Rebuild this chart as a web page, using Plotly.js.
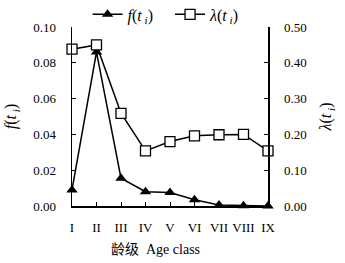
<!DOCTYPE html>
<html>
<head>
<meta charset="utf-8">
<script src="https://cdn.plot.ly/plotly-3.0.1.min.js"></script>
<style>html,body{margin:0;padding:0;background:#fff;}#chart{width:345px;height:263px;}</style>
</head>
<body>
<div id="chart"></div>
<script>
const ageClasses = ["I","II","III","IV","V","VI","VII","VIII","IX"];
const fValues = [0.009, 0.086, 0.0155, 0.008, 0.0075, 0.0035, 0.0006, 0.0001, 0.0];
const lambdaValues = [0.438, 0.450, 0.259, 0.154, 0.180, 0.196, 0.199, 0.200, 0.154];
const leftTicks = [0, 0.02, 0.04, 0.06, 0.08, 0.10];
const rightTicks = [0, 0.10, 0.20, 0.30, 0.40, 0.50];
const xTitle = "龄级  Age class";

const serif = "'Liberation Serif', 'Times New Roman', serif";
const cjk = "'Liberation Serif', 'Noto Sans CJK SC', serif";
const gap = "\u00a0\u00a0\u00a0";

const traces = [
  {
    x: ageClasses, y: fValues, name: "<i>f</i>(<i>t</i><sub><i> i</i></sub>)" + gap,
    type: "scatter", mode: "lines+markers", yaxis: "y",
    line: {color: "#000", width: 1.5},
    marker: {symbol: "triangle-up", size: 10, color: "#000"},
    cliponaxis: false
  },
  {
    x: ageClasses, y: lambdaValues, name: "<i>λ</i>(<i>t</i><sub><i> i</i></sub>)",
    type: "scatter", mode: "lines+markers", yaxis: "y2",
    line: {color: "#000", width: 1.5},
    marker: {symbol: "square", size: 10, color: "#fff", line: {color: "#000", width: 1.3}},
    cliponaxis: false
  }
];

const layout = {
  width: 345, height: 263,
  margin: {l: 72, r: 77, t: 27, b: 57, pad: 0, autoexpand: false},
  paper_bgcolor: "#fff", plot_bgcolor: "#fff",
  font: {family: serif, size: 13, color: "#000"},
  showlegend: true,
  legend: {orientation: "h", x: 0.48, xanchor: "center", yref: "container", y: 0.945, yanchor: "middle",
           font: {family: serif, size: 16}, tracegroupgap: 0},
  annotations: [{
    text: xTitle, xref: "paper", yref: "paper", x: 0.425, y: -0.245,
    xanchor: "center", yanchor: "middle", showarrow: false,
    font: {family: cjk, size: 14}
  }],
  xaxis: {
    type: "category", range: [0, 8], showgrid: false, zeroline: false,
    showline: true, linecolor: "#000", linewidth: 1.5,
    ticks: "inside", ticklen: 4, tickcolor: "#000", tickwidth: 1,
    ticklabelstandoff: 9, tickfont: {family: serif, size: 13}
  },
  yaxis: {
    range: [0, 0.10], tickvals: leftTicks, tickformat: ".2f",
    showgrid: false, zeroline: false, showline: true, linecolor: "#000", linewidth: 1.5,
    ticks: "inside", ticklen: 4, tickcolor: "#000", tickwidth: 1,
    ticklabelstandoff: 12, tickfont: {family: serif, size: 13},
    title: {text: "<i>f</i>(<i>t</i><sub><i> i</i></sub>)", font: {family: serif, size: 16}, standoff: 12}
  },
  yaxis2: {
    overlaying: "y", side: "right", range: [0, 0.5], tickvals: rightTicks, tickformat: ".2f",
    showgrid: false, zeroline: false, showline: true, linecolor: "#000", linewidth: 1.5,
    ticks: "inside", ticklen: 4, tickcolor: "#000", tickwidth: 1,
    ticklabelstandoff: 12, tickfont: {family: serif, size: 13},
    title: {text: "<i>λ</i>(<i>t</i><sub><i> i</i></sub>)", font: {family: serif, size: 16}, standoff: 14}
  }
};

Plotly.newPlot("chart", traces, layout, {displayModeBar: false, staticPlot: true});
</script>
</body>
</html>
